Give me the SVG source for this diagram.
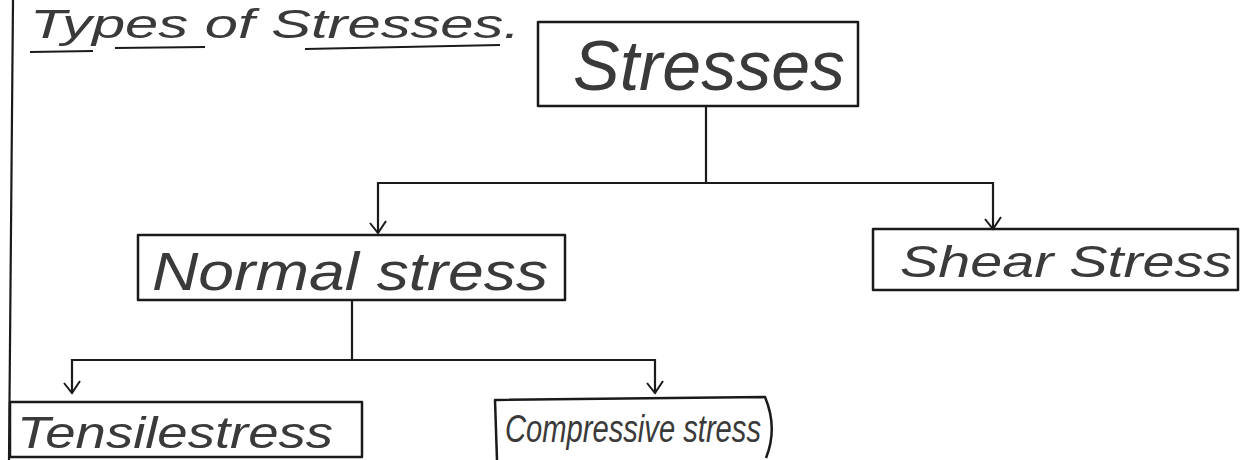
<svg xmlns="http://www.w3.org/2000/svg" width="1252" height="460" viewBox="0 0 1252 460">
<style>
.box{fill:none;stroke:#1a1a1a;stroke-width:2.5;stroke-linejoin:round}
.ln{fill:none;stroke:#1a1a1a;stroke-width:2.2}
.t{font-family:"Liberation Sans",Arial,sans-serif;fill:#3a3a3a;font-style:italic}
</style>
<defs>
<marker id="v" viewBox="0 0 20 20" refX="18" refY="10" markerWidth="20" markerHeight="20" markerUnits="userSpaceOnUse" orient="auto-start-reverse">
<polyline points="6,2 18,10 8,18" fill="none" stroke="#1a1a1a" stroke-width="2"/>
</marker>
</defs>
<rect width="1252" height="460" fill="#ffffff"/>
<line x1="13" y1="0" x2="9" y2="460" class="ln"/>
<g id="title">
<text x="30" y="38" class="t" font-size="40" textLength="490" lengthAdjust="spacingAndGlyphs">Types of Stresses.</text>
<line x1="30" y1="52" x2="93" y2="51" class="ln"/>
<line x1="115" y1="48" x2="205" y2="47" class="ln"/>
<line x1="305" y1="49" x2="500" y2="45" class="ln"/>
</g>
<g id="connectors">
<line x1="706" y1="106" x2="706" y2="183" class="ln"/>
<polyline points="378,233 378,183 993,183 993,229" class="ln" marker-start="url(#v)" marker-end="url(#v)"/>
<line x1="352" y1="300" x2="352" y2="360" class="ln"/>
<polyline points="72,393 72,360 655,360 655,393" class="ln" marker-start="url(#v)" marker-end="url(#v)"/>
</g>
<g id="stresses">
<rect x="538" y="22" width="320" height="84" class="box"/>
<text x="573" y="90" class="t" font-size="70" textLength="272" lengthAdjust="spacingAndGlyphs">Stresses</text>
</g>
<g id="normal">
<rect x="138" y="235" width="427" height="65" class="box"/>
<text x="152" y="290" class="t" font-size="54" textLength="396" lengthAdjust="spacingAndGlyphs">Normal stress</text>
</g>
<g id="shear">
<rect x="873" y="229" width="365" height="61" class="box"/>
<text x="900" y="277" class="t" font-size="44" textLength="332" lengthAdjust="spacingAndGlyphs">Shear Stress</text>
</g>
<g id="tensile">
<rect x="10" y="402" width="352" height="55" class="box"/>
<text x="17" y="448" class="t" font-size="44" textLength="316" lengthAdjust="spacingAndGlyphs">Tensilestress</text>
</g>
<g id="compressive">
<path d="M497,460 L495,400 L765,397 Q778,428 766,458" class="box"/>
<text x="505" y="442" class="t" font-size="38" textLength="256" lengthAdjust="spacingAndGlyphs">Compressive stress</text>
</g>
</svg>
